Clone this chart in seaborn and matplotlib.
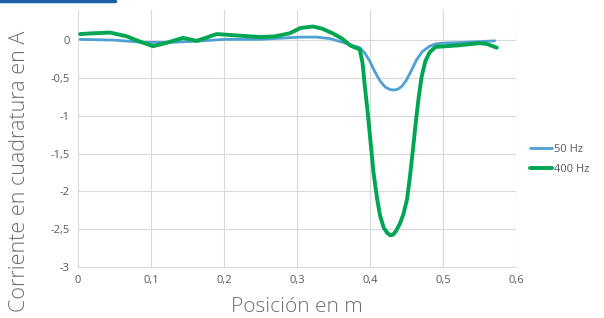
import matplotlib
matplotlib.use("Agg")
import matplotlib.pyplot as plt
import seaborn as sns
import pandas as pd
from matplotlib.lines import Line2D

x_50 = [0.003, 0.05, 0.09, 0.126, 0.17, 0.2, 0.25, 0.304, 0.327, 0.345, 0.36, 0.373, 0.386,
        0.393, 0.4, 0.407, 0.414, 0.421, 0.427, 0.432, 0.438, 0.444, 0.45, 0.457, 0.464,
        0.472, 0.482, 0.49, 0.5, 0.53, 0.571]
y_50 = [0.01, 0.0, -0.03, -0.03, -0.01, 0.01, 0.01, 0.04, 0.04, 0.02, -0.02, -0.06, -0.1,
        -0.17, -0.28, -0.42, -0.54, -0.62, -0.65, -0.66, -0.65, -0.61, -0.53, -0.4, -0.26,
        -0.15, -0.08, -0.05, -0.04, -0.03, -0.01]

x_400 = [0.003, 0.02, 0.044, 0.067, 0.085, 0.103, 0.12, 0.144, 0.163, 0.19, 0.22, 0.25, 0.27,
         0.29, 0.305, 0.322, 0.335, 0.349, 0.362, 0.373, 0.38, 0.386, 0.39, 0.393, 0.397,
         0.401, 0.405, 0.41, 0.414, 0.419, 0.424, 0.428, 0.432, 0.436, 0.441, 0.446, 0.451,
         0.455, 0.459, 0.463, 0.467, 0.471, 0.476, 0.482, 0.49, 0.505, 0.52, 0.55, 0.56,
         0.574]
y_400 = [0.08, 0.09, 0.1, 0.05, -0.02, -0.08, -0.04, 0.03, -0.01, 0.08, 0.06, 0.04, 0.05,
         0.09, 0.16, 0.18, 0.15, 0.09, 0.02, -0.07, -0.1, -0.12, -0.3, -0.6, -0.95,
         -1.35, -1.75, -2.1, -2.32, -2.48, -2.55, -2.58, -2.57, -2.52, -2.43, -2.3, -2.1,
         -1.8, -1.45, -1.08, -0.75, -0.48, -0.28, -0.16, -0.09, -0.08, -0.07, -0.04, -0.05,
         -0.1]

series_names = ["50 Hz", "400 Hz"]
x_ticks = [0, 0.1, 0.2, 0.3, 0.4, 0.5, 0.6]
x_tick_labels = ["0", "0,1", "0,2", "0,3", "0,4", "0,5", "0,6"]
y_ticks = [0, -0.5, -1, -1.5, -2, -2.5, -3]
y_tick_labels = ["0", "-0,5", "-1", "-1,5", "-2", "-2,5", "-3"]

sns.set_theme(style="whitegrid")
plt.rcParams["font.family"] = ["Open Sans", "DejaVu Sans"]

fig = plt.figure(figsize=(6.04, 3.18), dpi=100)
ax = fig.add_axes([0.129, 0.160, 0.725, 0.809])

df50 = pd.DataFrame({"x": x_50, "y": y_50})
df400 = pd.DataFrame({"x": x_400, "y": y_400})
sns.lineplot(data=df50, x="x", y="y", ax=ax, color="#4FA0D3", linewidth=2.0,
             sort=False, label=series_names[0], solid_joinstyle="round",
             solid_capstyle="round")
sns.lineplot(data=df400, x="x", y="y", ax=ax, color="#00A651", linewidth=2.8,
             sort=False, label=series_names[1], solid_joinstyle="round",
             solid_capstyle="round")

ax.set_xlim(0, 0.6)
ax.set_ylim(-3, 0.4)
ax.set_xticks(x_ticks)
ax.set_xticklabels(x_tick_labels)
ax.set_yticks(y_ticks)
ax.set_yticklabels(y_tick_labels)
ax.tick_params(axis="both", labelsize=8, labelcolor="#595959", length=0, pad=6)
ax.grid(True, color="#D9D9D9", linewidth=0.8)
for s in ["top", "right", "left"]:
    ax.spines[s].set_visible(False)
ax.spines["bottom"].set_color("#D9D9D9")
ax.spines["bottom"].set_linewidth(0.8)

ax.set_xlabel("Posición en m", fontsize=15, color="#6E6E6E", fontweight="light")
ax.set_ylabel("Corriente en cuadratura en A", fontsize=15.5, color="#6E6E6E",
              fontweight="light")
ax.xaxis.set_label_coords(0.5, -0.118)
ax.yaxis.set_label_coords(-0.109, 0.373)

leg = ax.legend(loc="center left", bbox_to_anchor=(1.01, 0.42), frameon=False,
                fontsize=8, handlelength=2.0, handletextpad=0.1, labelspacing=0.8,
                labelcolor="#595959")

fig.add_artist(Line2D([0, 115 / 604], [0.997, 0.997], color="#1F5FA8", linewidth=2.5,
                      transform=fig.transFigure))

fig.savefig("out.png", dpi=100)
